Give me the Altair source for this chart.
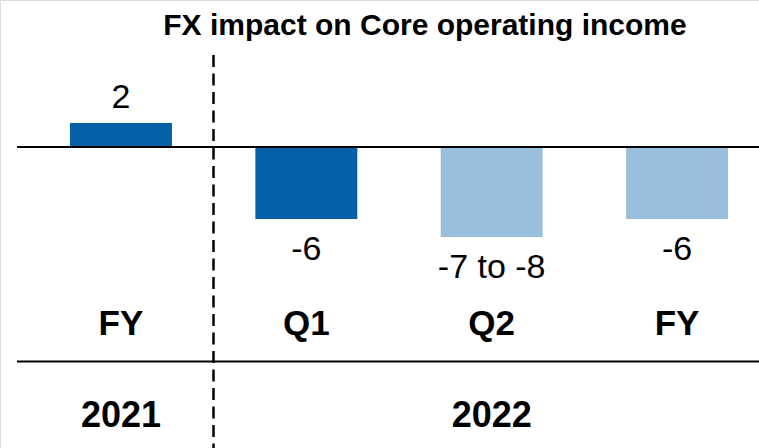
import altair as alt
import pandas as pd

# Data
categories = ["FY 2021", "Q1 2022", "Q2 2022", "FY 2022"]
period_labels = ["FY", "Q1", "Q2", "FY"]
values = [2, -6, -7.5, -6]
value_labels = ["2", "-6", "-7 to -8", "-6"]
series = ["Actual", "Actual", "Outlook", "Outlook"]
year_labels = ["2021", "2022"]
year_anchor = ["FY 2021", "Q2 2022"]
title_text = "FX impact on Core operating income"

df = pd.DataFrame({
    "cat": categories,
    "period": period_labels,
    "value": values,
    "label": value_labels,
    "series": series,
})
years = pd.DataFrame({"cat": year_anchor, "year": year_labels})

FONT = "Liberation Sans"
DARK = "#0560A8"
LIGHT = "#9ABFDC"

xscale = alt.Scale(domain=categories, range=[70, 728], paddingInner=0.45, paddingOuter=0)
yscale = alt.Scale(domain=[-25.0833, 12.25], nice=False, zero=False)

x = alt.X("cat:N", scale=xscale, axis=None, sort=categories)

bars = alt.Chart(df).mark_bar().encode(
    x=x,
    y=alt.Y("value:Q", scale=yscale, axis=None),
    y2=alt.datum(0),
    color=alt.Color("series:N", scale=alt.Scale(domain=["Actual", "Outlook"], range=[DARK, LIGHT]), legend=None),
)

pos_labels = alt.Chart(df).transform_filter("datum.value > 0").mark_text(
    font=FONT, fontSize=34, baseline="alphabetic", dy=-15, color="black"
).encode(x=x, y=alt.Y("value:Q", scale=yscale, axis=None), text="label:N")

neg_labels = alt.Chart(df).transform_filter("datum.value < 0").mark_text(
    font=FONT, fontSize=34, baseline="alphabetic", dy=41, color="black"
).encode(x=x, y=alt.Y("value:Q", scale=yscale, axis=None), text="label:N")

period_text = alt.Chart(df).mark_text(
    font=FONT, fontSize=35, fontWeight="bold", baseline="alphabetic", color="black"
).encode(x=x, y=alt.value(335), text="period:N")

year_text = alt.Chart(years).mark_text(
    font=FONT, fontSize=36, fontWeight="bold", baseline="alphabetic", color="black"
).encode(x=x, y=alt.value(427), text="year:N")

zero_rule = alt.Chart(pd.DataFrame({"v": [0]})).mark_rule(color="black", strokeWidth=2).encode(
    y=alt.Y("v:Q", scale=yscale, axis=None), x=alt.value(17), x2=alt.value(759)
)

sep_rule = alt.Chart(pd.DataFrame({"v": [0]})).mark_rule(color="black", strokeWidth=2).encode(
    y=alt.value(361.5), x=alt.value(17), x2=alt.value(759)
)

dash_rule = alt.Chart(pd.DataFrame({"v": [0]})).mark_rule(
    color="black", strokeWidth=2.5, strokeDash=[12, 6.5]
).encode(x=alt.value(213.5), y=alt.value(55), y2=alt.value(448))

title = alt.Chart(pd.DataFrame({"t": [title_text]})).mark_text(
    font=FONT, fontSize=30, fontWeight="bold", baseline="alphabetic", color="black"
).encode(x=alt.value(425), y=alt.value(35), text="t:N")

chart = alt.layer(
    bars, zero_rule, sep_rule, dash_rule, pos_labels, neg_labels, period_text, year_text, title
).properties(
    width=759, height=448, padding=0, autosize=alt.AutoSizeParams(type="none")
).configure_view(stroke=None).configure(background="white")

chart.save("out.html", embed_options={"renderer": "svg", "actions": False})
